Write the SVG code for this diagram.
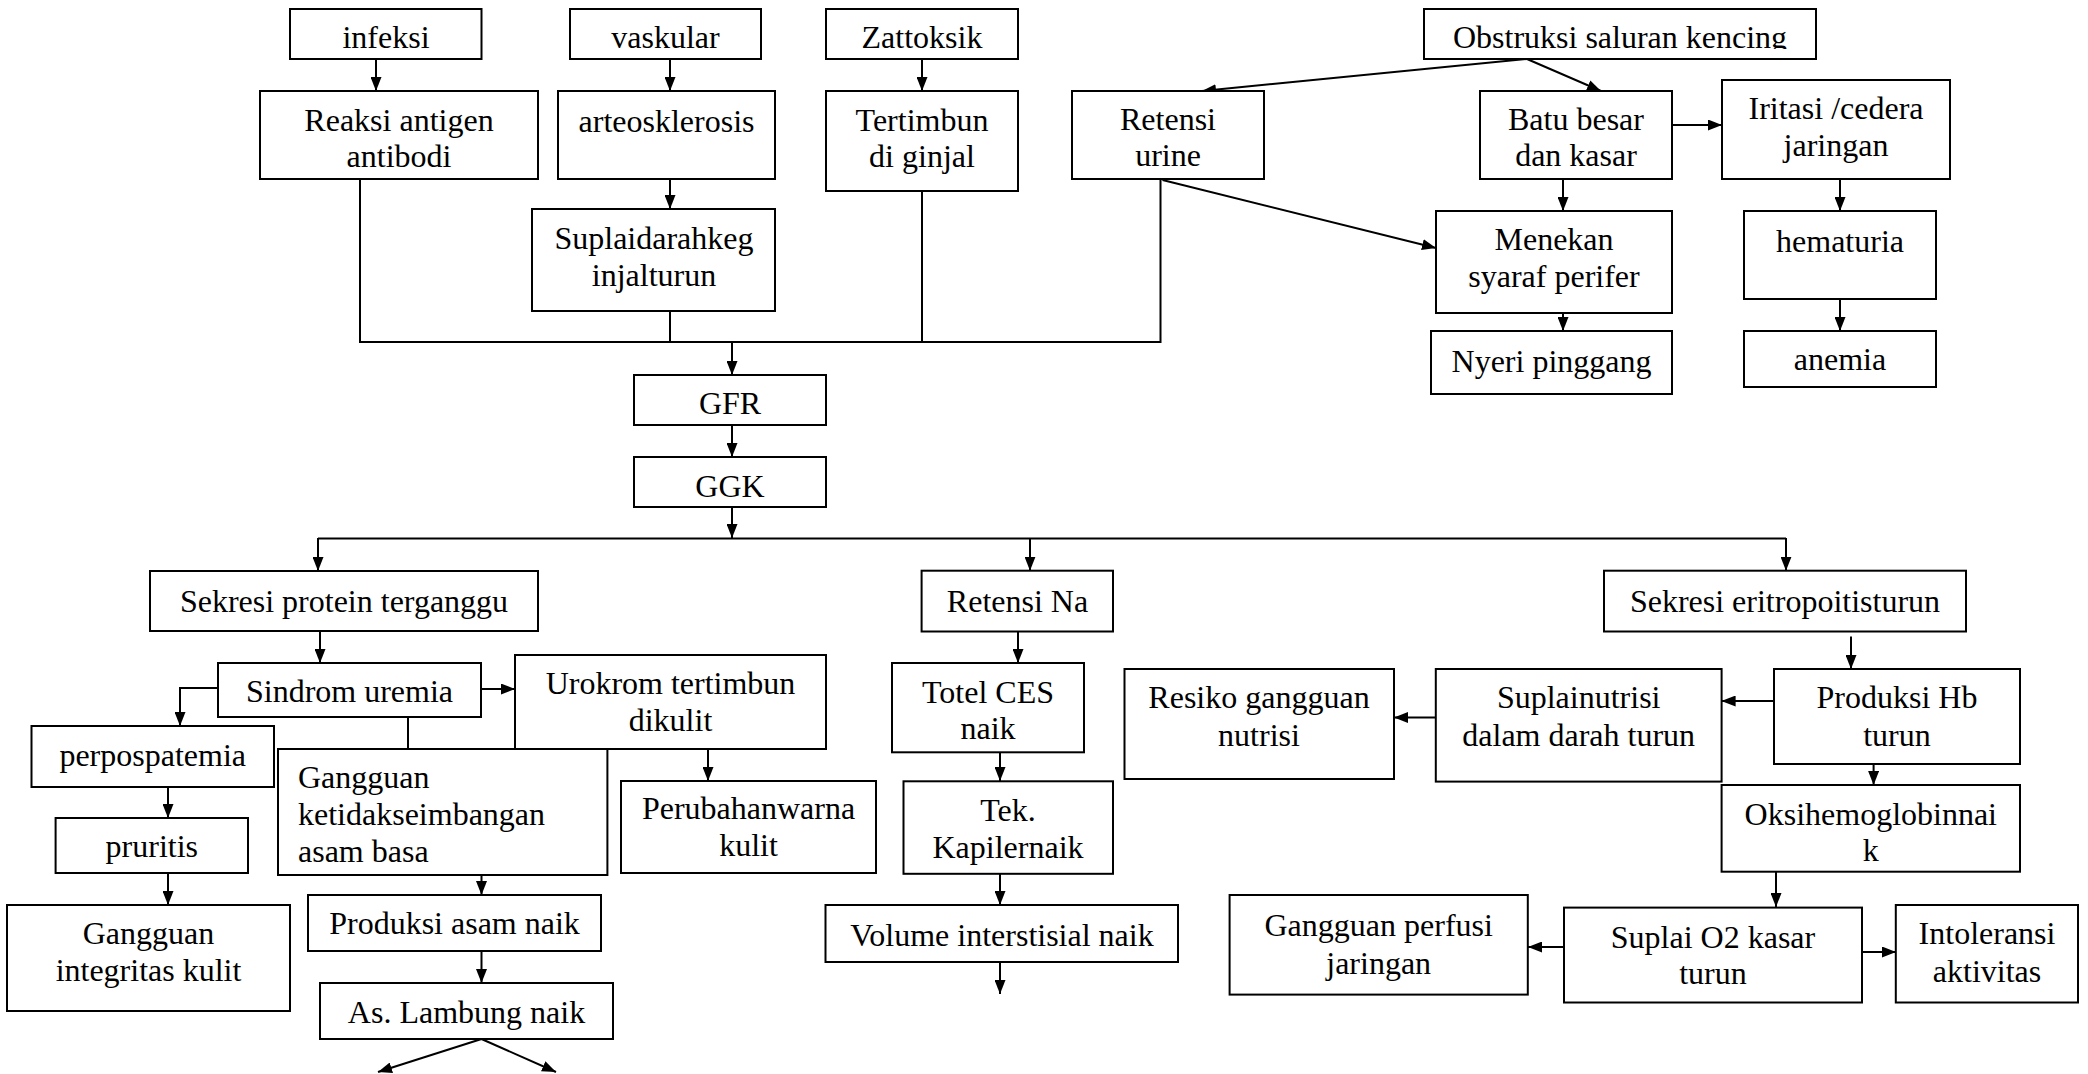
<svg xmlns="http://www.w3.org/2000/svg" width="2088" height="1074" viewBox="0 0 2088 1074">
<style>
.b{fill:#fff;stroke:#000;stroke-width:2}
.t{font-size:32px;fill:#000;text-anchor:middle}
.l{text-anchor:start}
.c{fill:none;stroke:#000;stroke-width:2}
.a{fill:none;stroke:#000;stroke-width:2;marker-end:url(#ah)}
</style>
<defs>
<marker id="ah" viewBox="0 0 14 11" markerWidth="14" markerHeight="11" refX="14" refY="5.5" orient="auto" markerUnits="userSpaceOnUse">
<path d="M0,0 L14,5.5 L0,11 z" fill="#000"/>
</marker>
<clipPath id="clipObs"><rect x="1424" y="9" width="392" height="40"/></clipPath>
</defs>
<rect width="2088" height="1074" fill="#fff"/>
<g id="connectors">
<path class="a" d="M376,59 V91"/>
<path class="a" d="M670,59 V91"/>
<path class="a" d="M670,179 V209"/>
<path class="a" d="M922,59 V91"/>
<path class="c" d="M360,179 V342 H1160.5 V179"/>
<path class="c" d="M670,311 V342"/>
<path class="c" d="M922,188 V342"/>
<path class="a" d="M732,342 V375"/>
<path class="a" d="M732,425 V457"/>
<path class="a" d="M732,507 V538"/>
<path class="a" d="M1527,59 L1202,91"/>
<path class="a" d="M1527,59 L1601,91"/>
<path class="a" d="M1672,125 H1722"/>
<path class="a" d="M1563,179 V211"/>
<path class="a" d="M1162.5,180 L1436,248"/>
<path class="a" d="M1563,298 V331"/>
<path class="a" d="M1840,179 V211"/>
<path class="a" d="M1840,299 V331"/>
<path class="c" d="M318,538.5 H1786"/>
<path class="a" d="M318,538 V571"/>
<path class="a" d="M1030,538 V570.7"/>
<path class="a" d="M1786,538 V570.7"/>
<path class="a" d="M320,631 V663"/>
<path class="a" d="M481,689 H515"/>
<path class="a" d="M218,688 H180 V726"/>
<path class="c" d="M408,717 V749"/>
<path class="a" d="M168,787 V818"/>
<path class="a" d="M168,873 V905"/>
<path class="a" d="M708,749 V781"/>
<path class="a" d="M481.5,862 V895"/>
<path class="a" d="M481.5,951 V983"/>
<path class="a" d="M481.5,1039 L378,1072"/>
<path class="a" d="M481.5,1039 L556,1072"/>
<path class="a" d="M1018,631.5 V663"/>
<path class="a" d="M1000,744 V781"/>
<path class="a" d="M1000,874 V905"/>
<path class="a" d="M1000,962 V994"/>
<path class="a" d="M1851,636.6 V669"/>
<path class="a" d="M1786,701 H1721.6"/>
<path class="a" d="M1435.8,717.5 H1394"/>
<path class="a" d="M1873.6,753 V785"/>
<path class="a" d="M1776,871.7 V907"/>
<path class="a" d="M1564,947 H1528"/>
<path class="a" d="M1862,952 H1896"/>
</g>
<g id="nodes" font-family="'Liberation Serif', 'DejaVu Serif', serif">
<g id="infeksi"><rect class="b" x="290" y="9" width="191.5" height="50"/><text class="t" x="386" y="48">infeksi</text></g>
<g id="vaskular"><rect class="b" x="570" y="9" width="191" height="50"/><text class="t" x="665.5" y="48">vaskular</text></g>
<g id="zattoksik"><rect class="b" x="826" y="9" width="192" height="50"/><text class="t" x="922" y="48">Zattoksik</text></g>
<g id="obstruksi"><rect class="b" x="1424" y="9" width="392" height="50"/><text class="t" x="1620" y="48" clip-path="url(#clipObs)">Obstruksi saluran kencing</text></g>
<g id="reaksi"><rect class="b" x="260" y="91" width="278" height="88"/><text class="t" x="399" y="130.5">Reaksi antigen<tspan x="399" y="166.5">antibodi</tspan></text></g>
<g id="arteosklerosis"><rect class="b" x="558" y="91" width="217" height="88"/><text class="t" x="666.5" y="132">arteosklerosis</text></g>
<g id="tertimbun"><rect class="b" x="826" y="91" width="192" height="100"/><text class="t" x="922" y="130.5">Tertimbun<tspan x="922" y="166.5">di ginjal</tspan></text></g>
<g id="suplaidarah"><rect class="b" x="532" y="209" width="243" height="102"/><text class="t" x="654" y="249">Suplaidarahkeg<tspan x="654" y="286">injalturun</tspan></text></g>
<g id="retensi-urine"><rect class="b" x="1072" y="91" width="192" height="88"/><text class="t" x="1168" y="130">Retensi<tspan x="1168" y="165.5">urine</tspan></text></g>
<g id="batu"><rect class="b" x="1480" y="91" width="192" height="88"/><text class="t" x="1576" y="130">Batu besar<tspan x="1576" y="166">dan kasar</tspan></text></g>
<g id="iritasi"><rect class="b" x="1722" y="80" width="228" height="99"/><text class="t" x="1836" y="119">Iritasi /cedera<tspan x="1836" y="155.5">jaringan</tspan></text></g>
<g id="menekan"><rect class="b" x="1436" y="211" width="236" height="102"/><text class="t" x="1554" y="250">Menekan<tspan x="1554" y="286.5">syaraf perifer</tspan></text></g>
<g id="hematuria"><rect class="b" x="1744" y="211" width="192" height="88"/><text class="t" x="1840" y="252">hematuria</text></g>
<g id="nyeri"><rect class="b" x="1431" y="331" width="241" height="63"/><text class="t" x="1551.5" y="371.5">Nyeri pinggang</text></g>
<g id="anemia"><rect class="b" x="1744" y="331" width="192" height="56"/><text class="t" x="1840" y="370">anemia</text></g>
<g id="gfr"><rect class="b" x="634" y="375" width="192" height="50"/><text class="t" x="730" y="414">GFR</text></g>
<g id="ggk"><rect class="b" x="634" y="457" width="192" height="50"/><text class="t" x="730" y="496.5">GGK</text></g>
<g id="sekresi-protein"><rect class="b" x="150" y="571" width="388" height="60"/><text class="t" x="344" y="612">Sekresi protein terganggu</text></g>
<g id="retensi-na"><rect class="b" x="921.6" y="570.7" width="191.4" height="60.8"/><text class="t" x="1017.5" y="612.4">Retensi Na</text></g>
<g id="sekresi-eritro"><rect class="b" x="1604" y="570.7" width="362" height="60.8"/><text class="t" x="1785" y="612.4">Sekresi eritropoitisturun</text></g>
<g id="sindrom"><rect class="b" x="218" y="663" width="263" height="54"/><text class="t" x="349.5" y="702">Sindrom uremia</text></g>
<g id="urokrom"><rect class="b" x="515" y="655" width="311" height="94"/><text class="t" x="670.5" y="694">Urokrom tertimbun<tspan x="670.5" y="730.5">dikulit</tspan></text></g>
<g id="perpospatemia"><rect class="b" x="31.5" y="726" width="242.5" height="61"/><text class="t" x="152.7" y="765.5">perpospatemia</text></g>
<g id="pruritis"><rect class="b" x="55.6" y="818" width="192.4" height="55"/><text class="t" x="151.8" y="856.5">pruritis</text></g>
<g id="gangguan-integritas"><rect class="b" x="7" y="905" width="283" height="106"/><text class="t" x="148.5" y="944">Gangguan<tspan x="148.5" y="981">integritas kulit</tspan></text></g>
<g id="gangguan-asam"><rect class="b" x="278" y="749" width="329.4" height="126"/><text class="t l" x="298" y="788">Gangguan<tspan x="298" y="825">ketidakseimbangan</tspan><tspan x="298" y="861.5">asam basa</tspan></text></g>
<g id="perubahan"><rect class="b" x="621" y="781" width="255" height="92"/><text class="t" x="748.5" y="819">Perubahanwarna<tspan x="748.5" y="855.5">kulit</tspan></text></g>
<g id="produksi-asam"><rect class="b" x="308" y="895" width="293" height="56"/><text class="t" x="454.5" y="934">Produksi asam naik</text></g>
<g id="lambung"><rect class="b" x="320" y="983" width="293" height="56"/><text class="t" x="466.5" y="1022.5">As. Lambung naik</text></g>
<g id="totel"><rect class="b" x="892" y="663" width="192" height="89.3"/><text class="t" x="988" y="703">Totel CES<tspan x="988" y="739">naik</tspan></text></g>
<g id="tek"><rect class="b" x="903.5" y="781.3" width="209.5" height="92.5"/><text class="t" x="1008" y="821">Tek.<tspan x="1008" y="858">Kapilernaik</tspan></text></g>
<g id="volume"><rect class="b" x="825.5" y="905" width="352.5" height="57"/><text class="t" x="1002" y="945.5">Volume interstisial naik</text></g>
<g id="resiko"><rect class="b" x="1124.5" y="669" width="269.5" height="110"/><text class="t" x="1259" y="708">Resiko gangguan<tspan x="1259" y="745.8">nutrisi</tspan></text></g>
<g id="suplainutrisi"><rect class="b" x="1435.8" y="669" width="285.8" height="112.6"/><text class="t" x="1578.7" y="708">Suplainutrisi<tspan x="1578.7" y="745.8">dalam darah turun</tspan></text></g>
<g id="produksi-hb"><rect class="b" x="1774" y="669" width="246" height="95"/><text class="t" x="1897" y="708">Produksi Hb<tspan x="1897" y="745.8">turun</tspan></text></g>
<g id="oksihemoglobin"><rect class="b" x="1721.6" y="785" width="298.4" height="86.7"/><text class="t" x="1870.8" y="825">Oksihemoglobinnai<tspan x="1870.8" y="860.8">k</tspan></text></g>
<g id="gangguan-perfusi"><rect class="b" x="1229.6" y="895" width="298.2" height="99.6"/><text class="t" x="1378.7" y="936">Gangguan perfusi<tspan x="1378.7" y="973.5">jaringan</tspan></text></g>
<g id="suplai-o2"><rect class="b" x="1564" y="907.6" width="298" height="94.9"/><text class="t" x="1713" y="947.8">Suplai O2 kasar<tspan x="1713" y="983.7">turun</tspan></text></g>
<g id="intoleransi"><rect class="b" x="1895.8" y="905" width="182.2" height="97.5"/><text class="t" x="1987" y="944.4">Intoleransi<tspan x="1987" y="982">aktivitas</tspan></text></g>
</g>
</svg>
